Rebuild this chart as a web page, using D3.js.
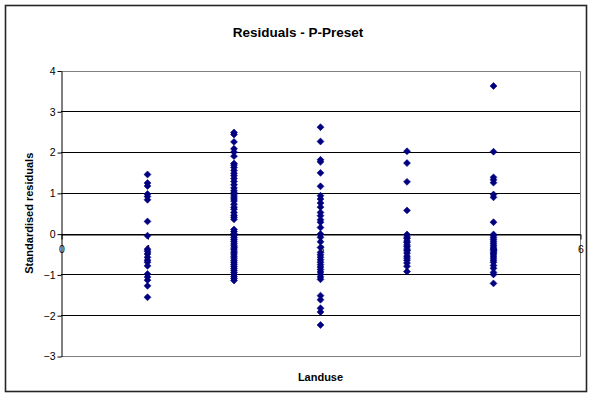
<!DOCTYPE html>
<html>
<head>
<meta charset="utf-8">
<script src="https://cdn.jsdelivr.net/npm/d3@7"></script>
<style>
html,body{margin:0;padding:0;background:#fff;}
svg{display:block;font-family:"Liberation Sans",Arial,sans-serif;}
</style>
</head>
<body>
<svg id="chart" width="591" height="397"></svg>
<script>
const chartTitle = "Residuals - P-Preset";
const xTitle = "Landuse";
const yTitle = "Standardised residuals";
const xTicks = [0, 1, 2, 3, 4, 5, 6];
const yTicks = [-3, -2, -1, 0, 1, 2, 3, 4];
const landuse = [1, 2, 3, 4, 5];
const res1 = [1.45, 1.24, 1.17, 0.97, 0.91, 0.83, 0.30, -0.05, -0.38, -0.43, -0.50, -0.58, -0.65, -0.70, -0.79, -0.99, -1.06, -1.14, -1.28, -1.56];
const res2 = [2.48, 2.43, 2.25, 2.08, 2.00, 1.90, 1.72, 1.68, 1.62, 1.55, 1.48, 1.42, 1.35, 1.28, 1.20, 1.12, 1.05, 1.00, 0.95, 0.90, 0.85, 0.80, 0.72, 0.65, 0.60, 0.52, 0.45, 0.40, 0.35,
  0.10, 0.05, 0.00, -0.05, -0.10, -0.15, -0.20, -0.25, -0.30, -0.35, -0.40, -0.45, -0.50, -0.55, -0.60, -0.65, -0.70, -0.75, -0.80, -0.85, -0.90, -0.95, -1.00, -1.05, -1.10, -1.15];
const res3 = [2.61, 2.26, 1.81, 1.76, 1.49, 1.16, 0.93, 0.85, 0.75, 0.65, 0.52, 0.44, 0.34, 0.28, 0.15, -0.01, -0.09, -0.20, -0.34, -0.46, -0.52, -0.58, -0.64, -0.70, -0.76, -0.82, -0.88, -0.94, -1.00, -1.06, -1.12, -1.52, -1.62, -1.83, -1.92, -2.24];
const res4 = [2.02, 1.73, 1.27, 0.57, -0.02, -0.08, -0.12, -0.18, -0.22, -0.28, -0.32, -0.38, -0.42, -0.48, -0.55, -0.60, -0.65, -0.72, -0.80, -0.93];
const res5 = [3.62, 2.01, 1.38, 1.32, 1.25, 0.96, 0.89, 0.28, -0.02, -0.05, -0.10, -0.15, -0.20, -0.25, -0.30, -0.35, -0.38, -0.42, -0.47, -0.50, -0.55, -0.60, -0.65, -0.70, -0.78, -0.85, -0.95, -1.00, -1.22];
const residuals = [res1, res2, res3, res4, res5];

(function () {
const points = [];
landuse.forEach((c, i) => residuals[i].forEach(v => points.push({x: c, y: v})));

const svg = d3.select("#chart");
const pLeft = 61, pRight = 580, pTop = 70.5, pBottom = 356;
const x = d3.scaleLinear().domain([0, 6]).range([pLeft, pRight]);
const y = d3.scaleLinear().domain([-3, 4]).range([pBottom, pTop]);

// outer chart border
svg.append("rect").attr("x", 5.5).attr("y", 5.5).attr("width", 581).attr("height", 386)
  .attr("fill", "#fff").attr("stroke", "#262626").attr("stroke-width", 1.6);

// gridlines
svg.append("g").selectAll("line").data(yTicks.filter(t => t > -3 && t < 4)).join("line")
  .attr("x1", pLeft).attr("x2", pRight).attr("y1", d => Math.round(y(d)) + 0.5).attr("y2", d => Math.round(y(d)) + 0.5)
  .attr("stroke", "#000").attr("stroke-width", 1);

// plot border (top, right, bottom)
svg.append("path")
  .attr("d", `M${pLeft},${Math.round(pTop)+0.5}H${pRight+0.5}V${Math.round(pBottom)+0.5}H${pLeft}`)
  .attr("fill", "none").attr("stroke", "#808080").attr("stroke-width", 1);

// y axis
const yAxis = svg.append("g").attr("transform", `translate(${pLeft + 0.5},0.5)`)
  .call(d3.axisLeft(y).tickValues(yTicks).tickSize(4).tickSizeOuter(0).tickFormat(d3.format("d")));
yAxis.select(".domain").attr("stroke", "#000");
yAxis.selectAll(".tick line").attr("stroke", "#000");
yAxis.selectAll(".tick text").attr("font-size", 10.5).attr("fill", "#000").attr("x", -6)
  .attr("font-family", "Liberation Sans, Arial, sans-serif");

// x axis at y = 0
const xAxis = svg.append("g").attr("transform", `translate(0.5,${Math.round(y(0)) + 0.5})`)
  .call(d3.axisBottom(x).tickValues(xTicks).tickSize(5).tickSizeOuter(0).tickFormat(d3.format("d")));
xAxis.select(".domain").attr("stroke", "#000");
xAxis.selectAll(".tick line").attr("stroke", "#000");
xAxis.selectAll(".tick text").attr("font-size", 10.5).attr("fill", "#000").attr("y", 11)
  .attr("font-family", "Liberation Sans, Arial, sans-serif");

// points
const diamond = {
  draw(ctx, size) {
    const r = Math.sqrt(size / 2);
    ctx.moveTo(0, -r); ctx.lineTo(r, 0); ctx.lineTo(0, r); ctx.lineTo(-r, 0); ctx.closePath();
  }
};
const sym = d3.symbol().type(diamond).size(24);
svg.append("g").selectAll("path").data(points).join("path")
  .attr("transform", d => `translate(${x(d.x)},${y(d.y)})`)
  .attr("d", sym).attr("fill", "#000080").attr("stroke", "#000080").attr("stroke-width", 0.6);

// titles
svg.append("text").attr("x", 298).attr("y", 37).attr("text-anchor", "middle")
  .attr("font-size", 13.5).attr("font-weight", "bold").text(chartTitle);
svg.append("text").attr("x", (pLeft + pRight) / 2).attr("y", 381).attr("text-anchor", "middle")
  .attr("font-size", 11).attr("font-weight", "bold").text(xTitle);
svg.append("text").attr("transform", `translate(33,${(pTop + pBottom) / 2}) rotate(-90)`).attr("text-anchor", "middle")
  .attr("font-size", 11).attr("font-weight", "bold").text(yTitle);
})();
</script>
</body>
</html>
